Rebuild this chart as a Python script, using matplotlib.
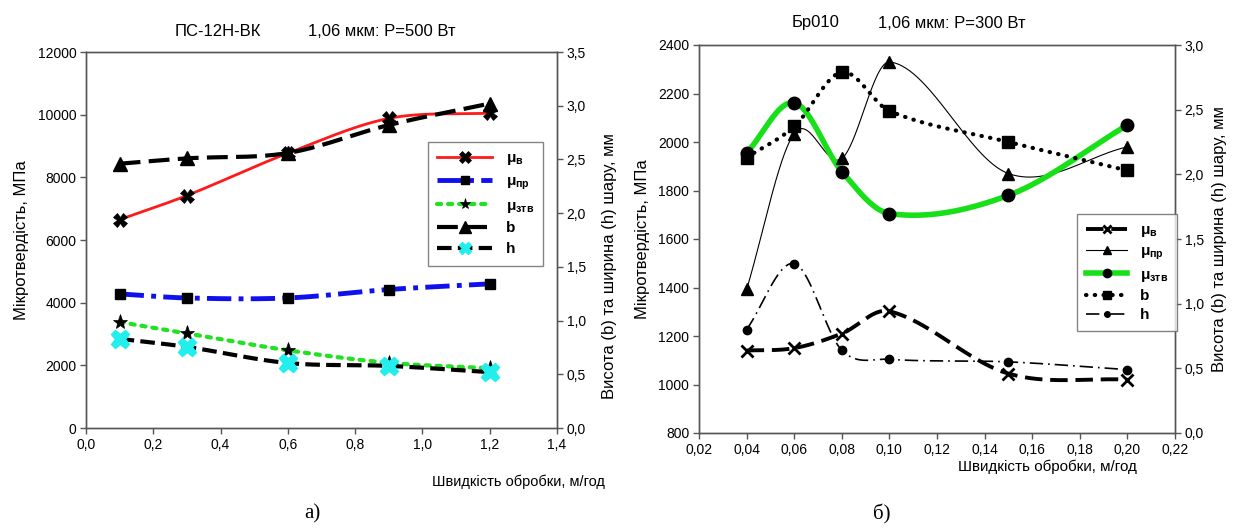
import numpy as np
import matplotlib
matplotlib.use("Agg")
import matplotlib.pyplot as plt
from matplotlib.ticker import FuncFormatter, MultipleLocator

plt.rcParams['font.family'] = ['Liberation Sans', 'DejaVu Sans']
plt.rcParams['mathtext.fontset'] = 'custom'
plt.rcParams['mathtext.rm'] = 'Liberation Sans:bold'
plt.rcParams['mathtext.bf'] = 'Liberation Sans:bold'

# ---------------- data: left chart (ПС-12Н-ВК) ----------------
left_x = [0.1, 0.3, 0.6, 0.9, 1.2]
left_mu_v = [6650, 7420, 8770, 9880, 10050]
left_mu_pr = [4280, 4150, 4150, 4420, 4600]
left_mu_ztv = [3380, 3020, 2480, 2080, 1910]
left_b = [2.46, 2.51, 2.56, 2.82, 3.02]
left_h = [0.83, 0.755, 0.605, 0.578, 0.52]

# ---------------- data: right chart (Бр010) ----------------
right_x = [0.04, 0.06, 0.08, 0.10, 0.15, 0.20]
right_mu_v = [1140, 1150, 1210, 1302, 1045, 1020]
right_mu_pr = [1392, 2035, 1932, 2330, 1870, 1980]
right_mu_ztv = [1955, 2162, 1878, 1705, 1780, 2070]
right_b = [2.13, 2.37, 2.79, 2.49, 2.25, 2.03]
right_h = [0.80, 1.31, 0.64, 0.57, 0.55, 0.49]

legend_labels = [r'$\mathbf{\mu}_{\mathregular{в}}$', r'$\mathbf{\mu}_{\mathregular{пр}}$',
                 r'$\mathbf{\mu}_{\mathregular{зтв}}$', 'b', 'h']


def smooth(x, y, n=60):
    """Cubic Hermite (Catmull-Rom style) curve through the data points."""
    x = np.asarray(x, float)
    y = np.asarray(y, float)
    k = len(x)
    m = np.zeros(k)
    m[0] = (y[1] - y[0]) / (x[1] - x[0])
    m[-1] = (y[-1] - y[-2]) / (x[-1] - x[-2])
    for i in range(1, k - 1):
        m[i] = (y[i + 1] - y[i - 1]) / (x[i + 1] - x[i - 1])
    xs_all, ys_all = [], []
    for i in range(k - 1):
        h = x[i + 1] - x[i]
        t = np.linspace(0, 1, n)
        h00 = 2 * t ** 3 - 3 * t ** 2 + 1
        h10 = t ** 3 - 2 * t ** 2 + t
        h01 = -2 * t ** 3 + 3 * t ** 2
        h11 = t ** 3 - t ** 2
        xs_all.append(x[i] + t * h)
        ys_all.append(h00 * y[i] + h10 * h * m[i] + h01 * y[i + 1] + h11 * h * m[i + 1])
    return np.concatenate(xs_all), np.concatenate(ys_all)


comma = FuncFormatter(lambda v, p: f"{v:.1f}".replace('.', ','))
comma2 = FuncFormatter(lambda v, p: f"{v:.2f}".replace('.', ','))
intf = FuncFormatter(lambda v, p: f"{int(round(v))}")

W, H = 1235, 529
fig = plt.figure(figsize=(W / 100, H / 100), dpi=100)

spine_col = '#555555'


def style(ax):
    for s in ax.spines.values():
        s.set_color(spine_col)
        s.set_linewidth(1.0)
    ax.tick_params(direction='out', length=4, width=1, color=spine_col, labelsize=10, pad=3)


def series(ax, x, y, color, lw, ls, marker, mfc, ms, mec='black', mew=1.0, dashes=None, z=3, lms=None):
    xs, ys = smooth(x, y)
    kw = {}
    if dashes is not None:
        kw['dashes'] = dashes
    cap = 'round' if ls == ':' else 'butt'
    ax.plot(xs, ys, color=color, lw=lw, ls=ls, zorder=z, dash_capstyle=cap, **kw)
    ax.plot(x, y, ls='none', marker=marker, ms=ms, mfc=mfc, mec=mec, mew=mew, zorder=z + 1)
    proxy, = ax.plot([], [], color=color, lw=lw, ls=ls, marker=marker, ms=lms if lms else ms * 0.75,
                     mfc=mfc, mec=mec, mew=mew, dash_capstyle=cap, **kw)
    return proxy

# ================= LEFT =================
axL = fig.add_axes([86 / W, 1 - 428 / H, (557 - 86) / W, (428 - 52) / H])
axL2 = axL.twinx()
style(axL); style(axL2)
axL.set_xlim(0, 1.4); axL.set_ylim(0, 12000)
axL2.set_ylim(0, 3.5)
axL.xaxis.set_major_locator(MultipleLocator(0.2))
axL.yaxis.set_major_locator(MultipleLocator(2000))
axL2.yaxis.set_major_locator(MultipleLocator(0.5))
axL.xaxis.set_major_formatter(comma)
axL.yaxis.set_major_formatter(intf)
axL2.yaxis.set_major_formatter(comma)

pL = []
pL.append(series(axL, left_x, left_mu_v, '#ff1a1a', 2.0, '-', 'X', 'black', 10, mew=0.5, lms=8))
pL.append(series(axL, left_x, left_mu_pr, '#1010ee', 3.5, '-.', 's', 'black', 7, dashes=(5, 1.5, 1, 1.5), lms=6))
pL.append(series(axL, left_x, left_mu_ztv, '#22e022', 3.0, ':', '*', 'black', 11, mew=0.5, lms=8))
pL.append(series(axL2, left_x, left_b, 'black', 3.0, '--', '^', 'black', 10, dashes=(5, 2), lms=8))
pL.append(series(axL2, left_x, left_h, 'black', 3.0, '--', 'X', '#22eeee', 13, mec='#22eeee', dashes=(3.5, 1.5), lms=9))

legL = axL2.legend(pL, legend_labels, loc='upper left', bbox_to_anchor=((428 - 86) / 471, 1 - (142 - 52) / 376),
                   handlelength=3.6, frameon=True, fancybox=False, edgecolor='#666666',
                   prop={'size': 11, 'weight': 'bold'},
                   borderpad=0.6, labelspacing=0.45, handletextpad=0.9, borderaxespad=0)
legL.get_frame().set_linewidth(1.0)

axL.set_ylabel('Мікротвердість, МПа', fontsize=12, labelpad=6)
axL2.set_ylabel('Висота (b) та ширина (h) шару, мм', fontsize=12, labelpad=6)
axL2.yaxis.set_label_coords(1.095, 0.43)
fig.text(432 / W, 1 - 482 / H, 'Швидкість обробки, м/год', fontsize=10.5, ha='left', va='center')
fig.text(175 / W, 1 - 32 / H, 'ПС-12Н-ВК', fontsize=12, ha='left', va='center')
fig.text(308 / W, 1 - 32 / H, '1,06 мкм: P=500 Вт', fontsize=12, ha='left', va='center')
fig.text(312 / W, 1 - 514 / H, 'а)', fontsize=15, ha='center', va='center', family='Liberation Serif')

# ================= RIGHT =================
axR = fig.add_axes([699 / W, 1 - 433 / H, (1175 - 699) / W, (433 - 45) / H])
axR2 = axR.twinx()
style(axR); style(axR2)
axR.set_xlim(0.02, 0.22); axR.set_ylim(800, 2400)
axR2.set_ylim(0, 3.0)
axR.xaxis.set_major_locator(MultipleLocator(0.02))
axR.yaxis.set_major_locator(MultipleLocator(200))
axR2.yaxis.set_major_locator(MultipleLocator(0.5))
axR.xaxis.set_major_formatter(comma2)
axR.yaxis.set_major_formatter(intf)
axR2.yaxis.set_major_formatter(comma)

pR = []
pR.append(series(axR, right_x, right_mu_v, 'black', 2.8, '--', 'x', 'black', 8, mew=2.0, dashes=(4.5, 2), lms=6))
pR.append(series(axR, right_x, right_mu_pr, 'black', 0.8, '-', '^', 'black', 8, lms=6))
pR.append(series(axR, right_x, right_mu_ztv, '#18e018', 4.0, '-', 'o', 'black', 9, lms=6))
pR.append(series(axR2, right_x, right_b, 'black', 3.0, ':', 's', 'black', 8, dashes=(0.1, 2.0), lms=6))
pR.append(series(axR2, right_x, right_h, 'black', 1.2, '-.', 'o', 'black', 6, dashes=(8, 3, 1, 3), lms=4))

legR = axR2.legend(pR, legend_labels, loc='upper left', bbox_to_anchor=((1077 - 699) / 476, 1 - (214 - 45) / 388),
                   handlelength=2.7, frameon=True, fancybox=False, edgecolor='#666666',
                   prop={'size': 11, 'weight': 'bold'},
                   borderpad=0.6, labelspacing=0.35, handletextpad=0.8, borderaxespad=0)
legR.get_frame().set_linewidth(1.0)

axR.set_ylabel('Мікротвердість, МПа', fontsize=12, labelpad=6)
axR2.set_ylabel('Висота (b) та ширина (h) шару, мм', fontsize=12, labelpad=6)
fig.text(958 / W, 1 - 467 / H, 'Швидкість обробки, м/год', fontsize=11, ha='left', va='center')
fig.text(792 / W, 1 - 23 / H, 'Бр010', fontsize=12, ha='left', va='center')
fig.text(878 / W, 1 - 23 / H, '1,06 мкм: P=300 Вт', fontsize=12, ha='left', va='center')
fig.text(882 / W, 1 - 514 / H, 'б)', fontsize=15, ha='center', va='center', family='Liberation Serif')

fig.savefig('out.png', dpi=100, facecolor='white')
